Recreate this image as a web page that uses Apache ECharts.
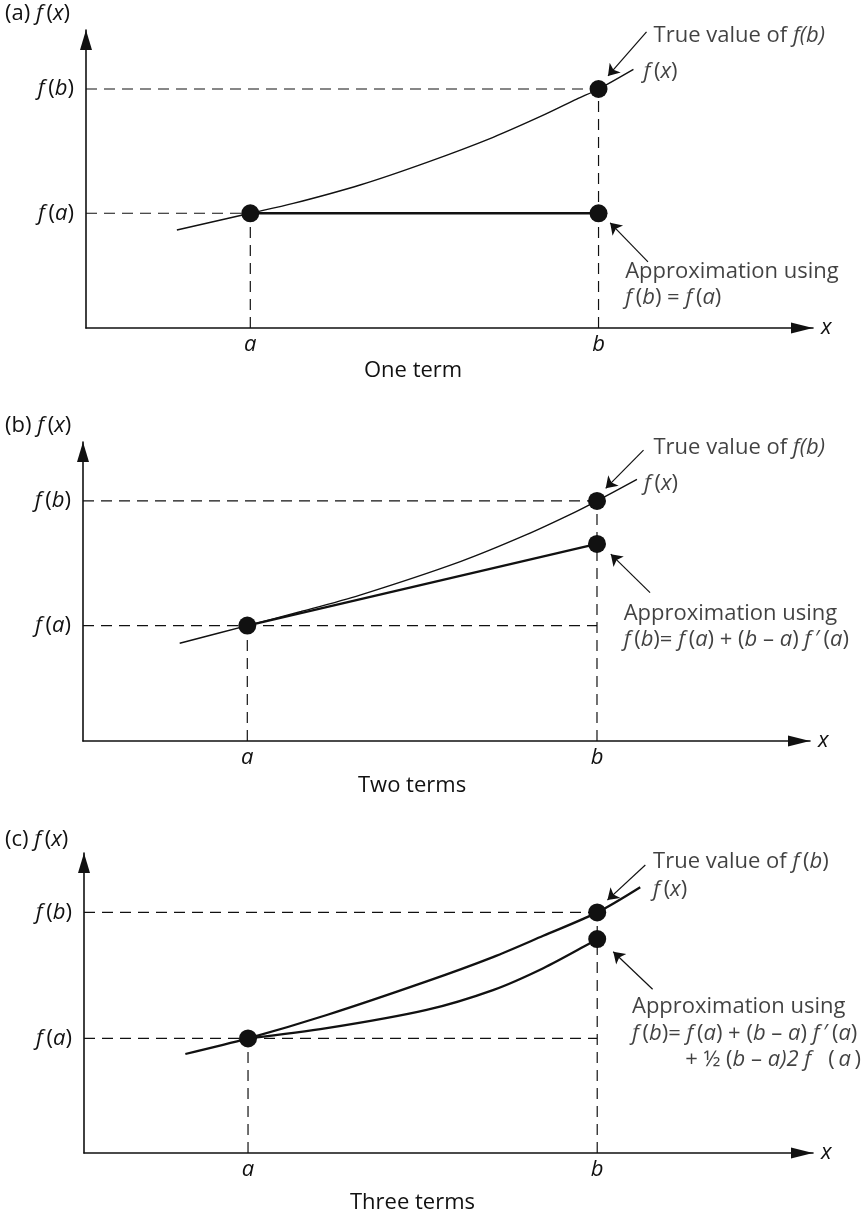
<!DOCTYPE html>
<html><head><meta charset="utf-8">
<script src="https://cdn.jsdelivr.net/npm/echarts@6/dist/echarts.min.js"></script>
<style>html,body{margin:0;padding:0;background:#fff}#c{width:863px;height:1217px}</style>
</head><body><div id="c"></div>
<script>
const INK = '#111111';
const FONT = '"Open Sans", "Noto Sans", sans-serif';
const FS = 22;
const TS = '\u2009'; // thin space

// ---- text content ----
const panelTags = ['(a) {i|f}' + TS + '({i|x})', '(b) {i|f}' + TS + '({i|x})', '(c) {i|f}' + TS + '({i|x})'];
const captions = ['One term', 'Two terms', 'Three terms'];
const xTickLabels = ['{i|a}', '{i|b}'];
const yTickLabels = ['{i|f}' + TS + '({i|a})', '{i|f}' + TS + '({i|b})'];
const trueTexts = ['True value of {i|f(b)}', 'True value of {i|f(b)}', 'True value of {i|f}' + TS + '({i|b})'];
const fxLabel = '{i|f}' + TS + '({i|x})';
const approxTitle = 'Approximation using';
const formulasA = ['{i|f}' + TS + '({i|b}) = {i|f}' + TS + '({i|a})'];
const formulaLine1 = '{i|f}' + TS + '({i|b})= {i|f}' + TS + '({i|a}) + ({i|b} – {i|a}) {i|f}' + TS + '′' + TS + '({i|a})';
const formulasB = [formulaLine1];
const formulasC = [formulaLine1, '+ ½ ({i|b} – {i|a)2 f}   (' + TS + '{i|a}' + TS + ')'];

// ---- panel (a): one term ----
const keyXA = [22.6, 70.5];          // a, b
const keyYA = [38.5, 80.2];          // f(a), f(b)
const curveA = [[12.5,32.9],[22.6,38.5],[28.5,41.8],[37.7,48.0],[46.9,55.6],[56.0,64.0],[62.9,71.4],[67.5,76.8],[70.5,80.2],[75.3,86.8]];
const approxA = [[22.6,38.5],[70.5,38.5]];
const approxPtA = [70.5, 38.5];
const trueArrowA = [[77.1,99.4],[71.8,84.6]];
const approxArrowA = [[77.3,22.2],[72.1,35.3]];
const textPosA = [[78.0,98.0],[76.6,86.0],[74.1,18.9],[74.1,10.0]];  // true text, f(x), approx title, formula lines

// ---- panel (b): two terms ----
const keyXB = [22.6, 70.7];
const keyYB = [38.6, 80.3];
const curveB = [[13.3,32.7],[22.6,38.6],[30.0,43.3],[38.1,48.8],[51.9,60.0],[61.0,69.0],[67.9,76.8],[70.7,80.3],[76.2,87.5]];
const approxB = [[22.6,38.6],[70.7,65.9]];
const approxPtB = [70.7, 65.9];
const trueArrowB = [[77.1,97.3],[71.9,84.5]];
const approxArrowB = [[78.0,49.6],[72.6,62.5]];
const textPosB = [[78.4,98.0],[77.1,86.2],[74.3,42.7],[74.3,33.8]];

// ---- panel (c): three terms ----
const keyXC = [22.5, 70.4];
const keyYC = [38.2, 80.2];
const curveC = [[13.9,33.0],[22.5,38.2],[33.3,46.0],[47.0,57.2],[56.1,65.3],[63.0,72.4],[70.4,80.2],[76.3,88.6]];
const approxC = [[22.5,38.2],[33.3,41.6],[47.0,47.7],[56.1,54.3],[63.0,61.6],[69.4,69.9],[70.4,71.3]];
const approxPtC = [70.4, 71.3];
const trueArrowC = [[77.0,96.0],[71.8,84.3]];
const approxArrowC = [[78.0,54.6],[72.6,67.1]];
const textPosC = [[78.0,97.1],[78.0,87.7],[75.1,48.8],[75.1,39.9],[82.4,31.0]];

const grids = [
  {left: 86, top: 30, width: 727, height: 298},
  {left: 83, top: 442, width: 727, height: 299},
  {left: 84, top: 853, width: 729, height: 300}
];
const tagTops = [3, 415, 829];
const captionPos = [[364, 360], [358, 775], [350, 1192]];

const rich = {i: {fontStyle: 'italic', fontFamily: FONT, fontSize: FS, color: INK}};

const panels = [
  {keyX: keyXA, keyY: keyYA, curve: curveA, approx: approxA, approxPt: approxPtA, trueArrow: trueArrowA, approxArrow: approxArrowA, textPos: textPosA, formulas: formulasA, fullFa: false, thickCurve: false},
  {keyX: keyXB, keyY: keyYB, curve: curveB, approx: approxB, approxPt: approxPtB, trueArrow: trueArrowB, approxArrow: approxArrowB, textPos: textPosB, formulas: formulasB, fullFa: true, thickCurve: false},
  {keyX: keyXC, keyY: keyYC, curve: curveC, approx: approxC, approxPt: approxPtC, trueArrow: trueArrowC, approxArrow: approxArrowC, textPos: textPosC, formulas: formulasC, fullFa: true, thickCurve: true}
];

const xAxes = [], yAxes = [], series = [], titles = [];
const dash = {color: INK, width: 1.2, type: [11, 7]};

panels.forEach((p, i) => {
  xAxes.push({
    type: 'value', gridIndex: i, min: 0, max: 100,
    splitLine: {show: false}, axisTick: {show: false},
    axisLine: {lineStyle: {color: INK, width: 1.6}, symbol: ['none', 'triangle'], symbolSize: [11, 22], symbolOffset: [0, -11]},
    axisLabel: {customValues: p.keyX, margin: 6, color: INK, fontFamily: FONT, fontSize: FS, rich,
      formatter: v => xTickLabels[p.keyX.indexOf(v)] || ''},
    name: '{i|x}', nameLocation: 'end', nameGap: 8,
    nameTextStyle: {rich, verticalAlign: 'middle', align: 'left'}
  });
  yAxes.push({
    type: 'value', gridIndex: i, min: 0, max: 100,
    splitLine: {show: false}, axisTick: {show: false},
    axisLine: {lineStyle: {color: INK, width: 1.6}, symbol: ['none', 'triangle'], symbolSize: [12, 20], symbolOffset: [0, -10]},
    axisLabel: {customValues: p.keyY, margin: 12, color: INK, fontFamily: FONT, fontSize: FS, rich,
      formatter: v => yTickLabels[p.keyY.indexOf(v)] || ''}
  });
  titles.push({text: panelTags[i], left: 5, top: tagTops[i], padding: 0,
    textStyle: {color: INK, fontFamily: FONT, fontSize: FS, fontWeight: 'normal', rich}});
  titles.push({text: captions[i], left: captionPos[i][0], top: captionPos[i][1], padding: 0,
    textStyle: {color: INK, fontFamily: FONT, fontSize: FS, fontWeight: 'normal'}});

  const ax = {xAxisIndex: i, yAxisIndex: i};
  const [a, b] = p.keyX, [fa, fb] = p.keyY;
  const seg = (pts, style, z) => Object.assign({type: 'line', data: pts, showSymbol: false, symbol: 'none', lineStyle: style, z: z || 2, silent: true}, ax);

  // dashed guides
  series.push(seg([[0, fb], [b, fb]], dash));
  series.push(seg([[0, fa], [p.fullFa ? b : a, fa]], dash));
  series.push(seg([[a, 0], [a, fa]], dash));
  series.push(seg([[b, 0], [b, fb]], dash));

  // true curve
  series.push(Object.assign(seg(p.curve, {color: INK, width: p.thickCurve ? 2.3 : 1.4}, 3), {smooth: 0.3}));
  // approximation
  series.push(Object.assign(seg(p.approx, {color: INK, width: 2.3}, 3), {smooth: p.approx.length > 2 ? 0.3 : false}));

  // dots
  series.push(Object.assign({type: 'scatter', symbol: 'circle', symbolSize: 18, itemStyle: {color: INK, opacity: 1}, z: 5, silent: true,
    data: [[a, fa], [b, fb], p.approxPt]}, ax));

  // arrows
  series.push(Object.assign({type: 'lines', coordinateSystem: 'cartesian2d', polyline: false, silent: true, z: 4,
    symbol: ['none', 'arrow'], symbolSize: 11, lineStyle: {color: INK, width: 1.2, opacity: 1},
    data: [{coords: p.trueArrow}, {coords: p.approxArrow}]}, ax));

  // text annotations
  const texts = [trueTexts[i], fxLabel, approxTitle].concat(p.formulas);
  series.push(Object.assign({type: 'scatter', symbolSize: 1, itemStyle: {color: 'rgba(0,0,0,0)'}, z: 6, silent: true, clip: false,
    label: {show: true, position: 'right', distance: 0, color: INK, fontFamily: FONT, fontSize: FS, rich},
    data: p.textPos.map((pos, k) => ({value: pos, label: {formatter: texts[k]}}))}, ax));
});

const chart = echarts.init(document.getElementById('c'), null, {renderer: 'canvas'});
chart.setOption({
  animation: false,
  backgroundColor: '#fff',
  title: titles,
  grid: grids,
  xAxis: xAxes,
  yAxis: yAxes,
  series
});
</script></body></html>
